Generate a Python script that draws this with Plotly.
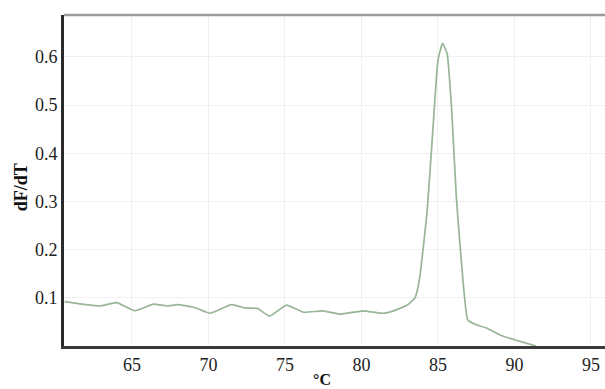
import plotly.graph_objects as go

temperature = [60.6, 62.9, 64.0, 65.2, 66.4, 67.3, 68.0, 69.1, 70.1, 71.5, 72.4, 73.2,
               74.0, 75.1, 76.2, 77.5, 78.6, 80.1, 81.4, 82.1, 83.0, 83.5, 83.8, 84.3,
               84.7, 85.0, 85.3, 85.6, 85.9, 86.2, 86.65, 86.95, 87.5, 88.2, 89.05,
               90.1, 91.2, 91.4]
dfdt = [0.092, 0.083, 0.090, 0.073, 0.087, 0.083, 0.086, 0.080, 0.068, 0.086, 0.079, 0.078,
        0.062, 0.085, 0.070, 0.073, 0.066, 0.073, 0.068, 0.073, 0.085, 0.100, 0.140, 0.282,
        0.463, 0.593, 0.628, 0.607, 0.490, 0.310, 0.131, 0.054, 0.044, 0.037, 0.023,
        0.012, 0.002, 0.0]

x_ticks = [65, 70, 75, 80, 85, 90, 95]
y_ticks = [0.1, 0.2, 0.3, 0.4, 0.5, 0.6]
y_tick_labels = ["0.1", "0.2", "0.3", "0.4", "0.5", "0.6"]

fig = go.Figure()
fig.add_trace(go.Scatter(x=temperature, y=dfdt, mode="lines",
                         line=dict(color="#98b598", width=1.7, shape="spline", smoothing=0.4),
                         showlegend=False, hoverinfo="skip"))

serif = "Liberation Serif, DejaVu Serif, serif"
font = dict(family=serif, size=18, color="#222222")

fig.update_layout(
    width=605, height=389,
    margin=dict(l=64, r=0, t=15, b=43, autoexpand=False),
    paper_bgcolor="white", plot_bgcolor="white",
    font=font,
    xaxis=dict(range=[60.56, 95.92], tickvals=x_ticks, showgrid=True, gridcolor="#f0f0f0",
               gridwidth=1, zeroline=False, showline=True, linecolor="#3a3a3a", linewidth=3,
               ticks="", ticklen=0, tickfont=font, automargin=False),
    yaxis=dict(range=[0, 0.687], tickvals=y_ticks, ticktext=y_tick_labels, showgrid=True,
               gridcolor="#f0f0f0", gridwidth=1, zeroline=False, showline=True,
               linecolor="#2a2a2a", linewidth=3, ticks="", ticklen=0, tickfont=font,
               automargin=False),
    shapes=[dict(type="line", xref="paper", yref="paper", x0=0, x1=1, y0=1, y1=1,
                 line=dict(color="#9a9a9a", width=2.5))],
    annotations=[
        dict(text="<b>°C</b>", xref="paper", yref="paper", x=0.477, y=-0.102,
             xanchor="center", yanchor="middle", showarrow=False,
             font=dict(family=serif, size=16, color="#111111")),
        dict(text="<b>dF/dT</b>", xref="paper", yref="paper", x=-0.078, y=0.479,
             xanchor="center", yanchor="middle", showarrow=False, textangle=-90,
             font=dict(family=serif, size=18, color="#111111")),
    ],
)

fig.write_html("out.html", config={"displayModeBar": False},
               post_script="document.body.style.margin='0';document.body.style.overflow='hidden';")
